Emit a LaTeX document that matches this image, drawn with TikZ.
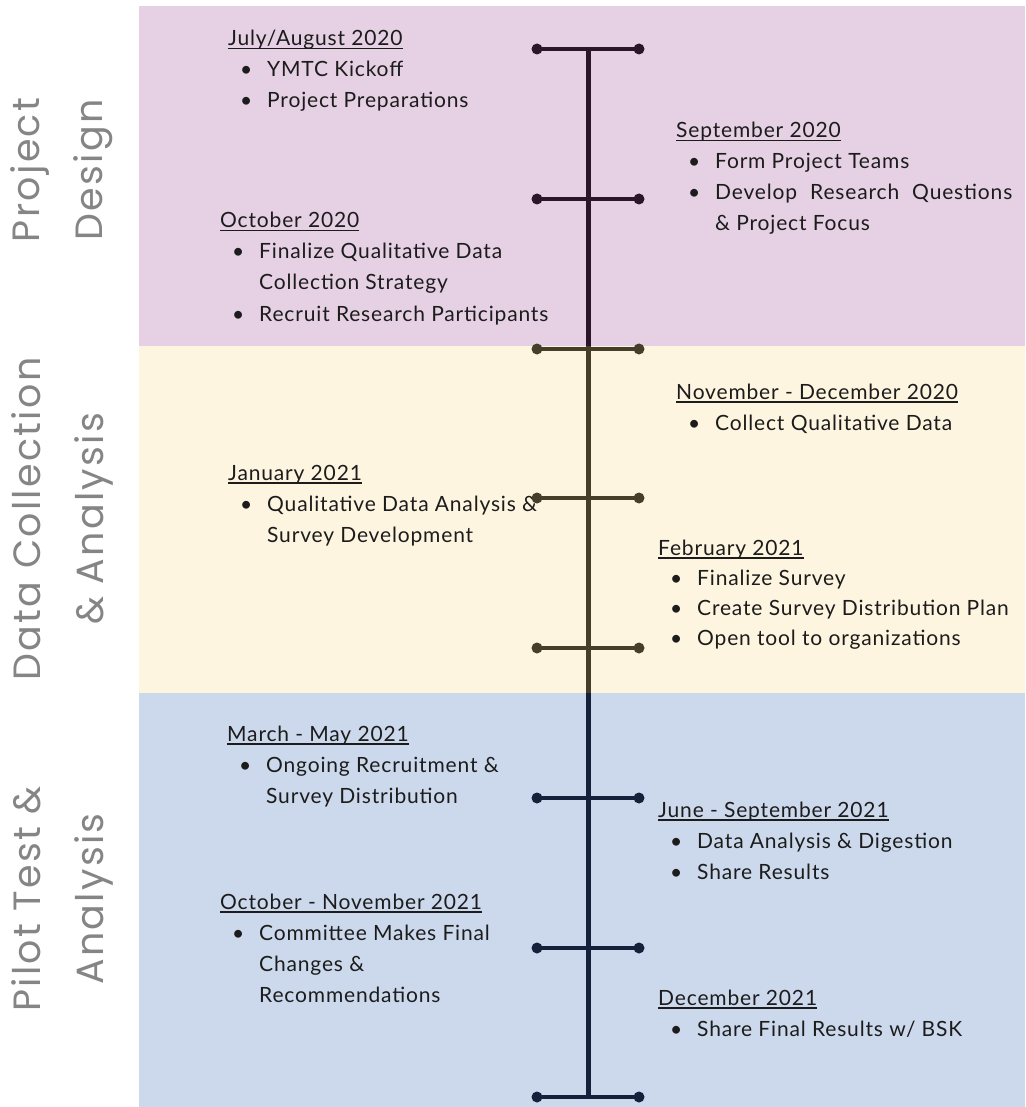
\documentclass[tikz,border=0pt]{standalone}
\usepackage{fontspec}
\setmainfont{Lato}[LetterSpace=4]
\newfontfamily\sidefont{Poppins}[LetterSpace=6]
\usetikzlibrary{calc}

% Underlined date, bullet line and continued line
\newcommand{\dateline}[1]{\setbox0\hbox{#1}\rlap{\rule[-3.5pt]{\wd0}{1.1pt}}\box0}
\newcommand{\itemline}[1]{\hspace*{12pt}\makebox[27pt][l]{\textbullet}#1}
\newcommand{\itemcont}[1]{\hspace*{39pt}#1}

\begin{document}
\begin{tikzpicture}[x=1pt, y=-1pt,
    event/.style={anchor=base west, inner sep=0pt, text=textColour, font=\fontsize{21}{31}\selectfont},
    phase/.style={rotate=90, align=center, inner sep=0pt, text=phaseColour, font=\sidefont\fontsize{38}{63}\selectfont}]
    % Define colours
    \definecolor{projFill}{HTML}{E6D0E3}
    \definecolor{dataFill}{HTML}{FEF5E1}
    \definecolor{pilotFill}{HTML}{CCD9EC}
    \definecolor{projLine}{HTML}{2B1627}
    \definecolor{dataLine}{HTML}{463E28}
    \definecolor{pilotLine}{HTML}{15203A}
    \definecolor{textColour}{HTML}{1C1C1C}
    \definecolor{phaseColour}{HTML}{858585}

    % Define timeline position
    \def\lineX{588}
    \def\tickHalf{51}

    \useasboundingbox (0,0) rectangle (1025,1107);

    % Draw phase bands
    \fill[projFill] (139,6) rectangle (1025,346);
    \fill[dataFill] (139,346) rectangle (1025,693);
    \fill[pilotFill] (139,693) rectangle (1025,1107);

    % Phase labels
    \node[phase] (design) at (62,170) {Project\\Design};
    \node[phase] (collect) at (62,519) {Data Collection\\\& Analysis};
    \node[phase] (pilot) at (62,899) {Pilot Test \&\\Analysis};

    % Left column events
    \node[event] (julaug) at (228,46) {\begin{tabular}[t]{@{}l@{}}\dateline{July/August 2020}\\
        \itemline{YMTC Kickoff}\\ \itemline{Project Preparations}\end{tabular}};
    \node[event] (oct20) at (220,228) {\begin{tabular}[t]{@{}l@{}}\dateline{October 2020}\\
        \itemline{Finalize Qualitative Data}\\ \itemcont{Collection Strategy}\\
        \itemline{Recruit Research Participants}\end{tabular}};
    \node[event] (jan21) at (228,480) {\begin{tabular}[t]{@{}l@{}}\dateline{January 2021}\\
        \itemline{Qualitative Data Analysis \&}\\ \itemcont{Survey Development}\end{tabular}};
    \node[event] (marmay) at (227,741) {\begin{tabular}[t]{@{}l@{}}\dateline{March - May 2021}\\
        \itemline{Ongoing Recruitment \&}\\ \itemcont{Survey Distribution}\end{tabular}};
    \node[event] (octnov) at (220,909) {\begin{tabular}[t]{@{}l@{}}\dateline{October - November 2021}\\
        \itemline{Committee Makes Final}\\ \itemcont{Changes \&}\\ \itemcont{Recommendations}\end{tabular}};

    % Right column events
    \node[event] (sep20) at (676,138) {\begin{tabular}[t]{@{}l@{}}\dateline{September 2020}\\
        \itemline{Form Project Teams}\\ \itemline{Develop\hspace{13pt}Research\hspace{13pt}Questions}\\
        \itemcont{\& Project Focus}\end{tabular}};
    \node[event] (novdec) at (676,399) {\begin{tabular}[t]{@{}l@{}}\dateline{November - December 2020}\\
        \itemline{Collect Qualitative Data}\end{tabular}};
    \node[event] (feb21) at (658,555) {\begin{tabular}[t]{@{}l@{}}\dateline{February 2021}\\[-1pt]
        \itemline{Finalize Survey}\\[-1pt] \itemline{Create Survey Distribution Plan}\\[-1pt]
        \itemline{Open tool to organizations}\end{tabular}};
    \node[event] (junsep) at (658,817) {\begin{tabular}[t]{@{}l@{}}\dateline{June - September 2021}\\
        \itemline{Data Analysis \& Digestion}\\ \itemline{Share Results}\end{tabular}};
    \node[event] (dec21) at (658,1005) {\begin{tabular}[t]{@{}l@{}}\dateline{December 2021}\\
        \itemline{Share Final Results w/ BSK}\end{tabular}};

    % Draw the timeline, one colour for each phase
    \draw[line width=5pt, projLine] (\lineX,49) -- (\lineX,346);
    \draw[line width=5pt, dataLine] (\lineX,346) -- (\lineX,693);
    \draw[line width=5pt, pilotLine] (\lineX,693) -- (\lineX,1097);

    % Draw the ticks with round ends
    \foreach \y/\c in {49/projLine, 199/projLine, 349/dataLine, 498/dataLine, 648/dataLine,
                       798/pilotLine, 948/pilotLine, 1097/pilotLine} {
        \draw[line width=4.5pt, \c] (\lineX-\tickHalf,\y) -- (\lineX+\tickHalf,\y);
        \fill[\c] (\lineX-\tickHalf,\y) circle (5.5pt);
        \fill[\c] (\lineX+\tickHalf,\y) circle (5.5pt);
    }

\end{tikzpicture}
\end{document}
